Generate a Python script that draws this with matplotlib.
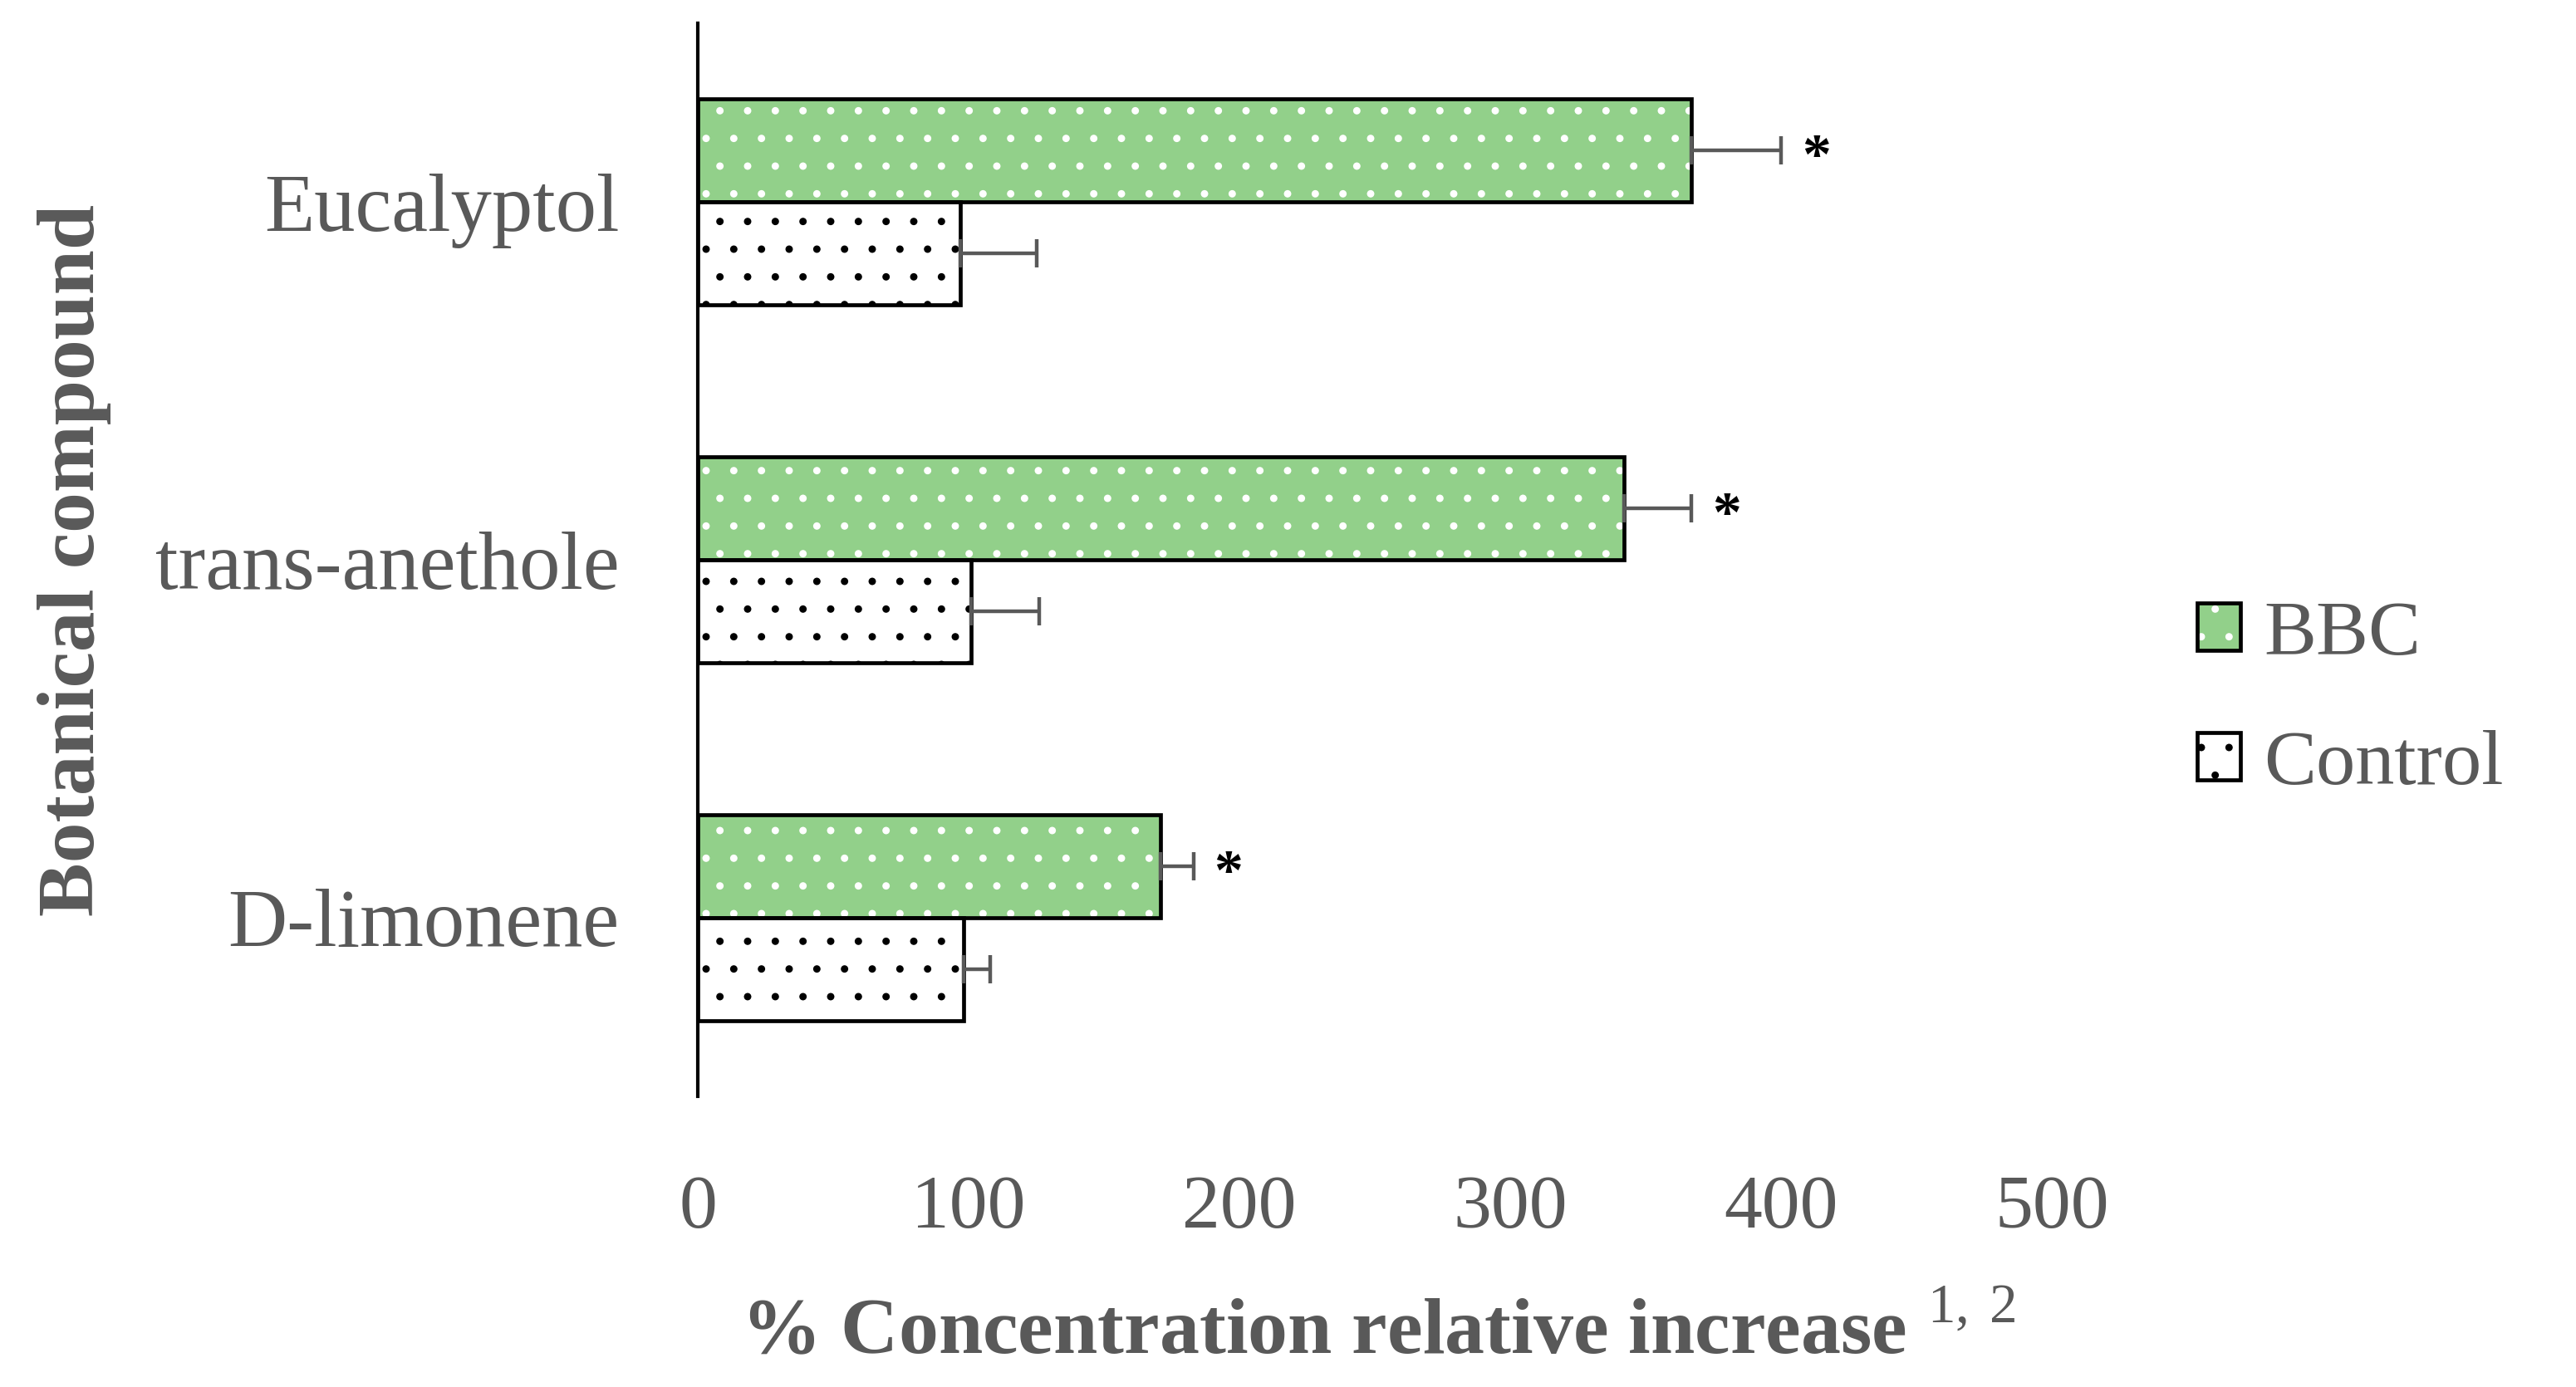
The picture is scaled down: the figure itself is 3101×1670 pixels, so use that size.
import matplotlib
matplotlib.use("Agg")
import matplotlib.pyplot as plt
from matplotlib.legend_handler import HandlerTuple
import numpy as np

categories = ["D-limonene", "trans-anethole", "Eucalyptol"]
bbc_values = [171, 342, 367]
bbc_errors = [12, 25, 33]
control_values = [98, 101, 97]
control_errors = [10, 25, 28]
significance = ["*", "*", "*"]
xticks = [0, 100, 200, 300, 400, 500]

GREEN = "#92D08A"
GRAY = "#595959"
FONT = "Liberation Serif"

plt.rcParams["font.family"] = [FONT, "DejaVu Serif"]
plt.rcParams["mathtext.fontset"] = "custom"
plt.rcParams["mathtext.rm"] = FONT
plt.rcParams["mathtext.bf"] = FONT + ":bold"
plt.rcParams["hatch.linewidth"] = 0.8

fig = plt.figure(figsize=(15.505, 8.35), dpi=200)
ax = fig.add_axes([0.2709, 0.2096, 0.7965 - 0.2709, 0.9832 - 0.2096])

y = np.arange(len(categories))
h = 0.288

# BBC bars: fill + white dot hatch, then black outline
bbc_fill = ax.barh(y + h / 2, bbc_values, height=h, color=GREEN,
                   edgecolor="white", hatch=".", linewidth=0, zorder=2)
bbc_edge = ax.barh(y + h / 2, bbc_values, height=h, facecolor="none",
                   edgecolor="black", linewidth=1.7, zorder=3)
ctl_fill = ax.barh(y - h / 2, control_values, height=h, color="white",
                   edgecolor="black", hatch=".", linewidth=0, zorder=2)
ctl_edge = ax.barh(y - h / 2, control_values, height=h, facecolor="none",
                   edgecolor="black", linewidth=1.7, zorder=3)

ax.errorbar(bbc_values, y + h / 2,
            xerr=[np.zeros(len(bbc_errors)), bbc_errors],
            fmt="none", ecolor=GRAY, elinewidth=1.6, capsize=6, capthick=1.6,
            zorder=4)
ax.errorbar(control_values, y - h / 2,
            xerr=[np.zeros(len(control_errors)), control_errors],
            fmt="none", ecolor=GRAY, elinewidth=1.6, capsize=6, capthick=1.6,
            zorder=4)

for yi, v, e, s in zip(y, bbc_values, bbc_errors, significance):
    ax.annotate(s, xy=(v + e, yi + h / 2), xytext=(9, -4),
                textcoords="offset points", ha="left", va="center",
                fontsize=25, fontweight="bold", color="black")

ax.set_xlim(0, 500)
ax.set_ylim(-0.5, 2.5)
ax.set_xticks(xticks)
ax.set_xticklabels([str(t) for t in xticks])
ax.set_yticks(y)
ax.set_yticklabels(categories)
ax.tick_params(axis="x", length=0, pad=34, labelsize=33, labelcolor=GRAY)
ax.tick_params(axis="y", length=0, pad=34, labelsize=35.5, labelcolor=GRAY)

for side in ["top", "right", "bottom"]:
    ax.spines[side].set_visible(False)
ax.spines["left"].set_linewidth(1.5)
ax.spines["left"].set_color("black")

fig.text(0.535, 0.024, r"% Concentration relative increase $^{1,\,2}$",
         fontsize=34.5, fontweight="bold", color=GRAY,
         ha="center", va="baseline")
fig.text(0.029, 0.596, "Botanical compound", fontsize=35, fontweight="bold",
         color=GRAY, rotation=90, ha="center", va="center")

leg = fig.legend(handles=[(bbc_fill[0], bbc_edge[0]), (ctl_fill[0], ctl_edge[0])],
                 labels=["BBC", "Control"],
                 handler_map={tuple: HandlerTuple(ndivide=1)},
                 loc="center left", bbox_to_anchor=(0.853, 0.495),
                 frameon=False, fontsize=34, handlelength=0.55,
                 handleheight=0.55, handletextpad=0.3, labelspacing=0.75,
                 borderpad=0, borderaxespad=0)
for t in leg.get_texts():
    t.set_color(GRAY)

fig.savefig("out.png", dpi=200)
